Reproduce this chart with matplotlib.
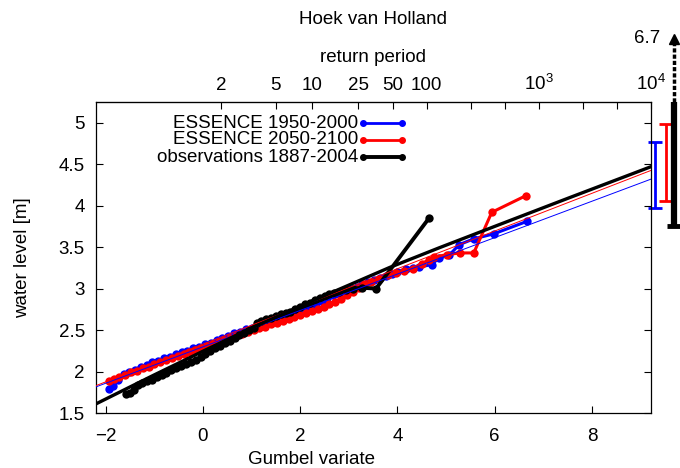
import numpy as np
import matplotlib
matplotlib.use("Agg")
import matplotlib.pyplot as plt
from matplotlib.ticker import FuncFormatter

plt.rcParams['font.family'] = ['Liberation Sans', 'DejaVu Sans']
plt.rcParams['mathtext.default'] = 'regular'
FS = 13.5

# ---------------- data ----------------
blue_x = [-1.93, -1.85, -1.75, -1.63, -1.52, -1.40, -1.28, -1.16, -1.04, -0.92, -0.80,
          -0.68, -0.56, -0.44, -0.32, -0.20, -0.08, 0.04, 0.16, 0.28, 0.40, 0.52,
          0.64, 0.76, 0.88, 1.00, 1.12, 1.24, 1.36, 1.48, 1.60, 1.72, 1.84, 1.96,
          2.08, 2.20, 2.32, 2.44, 2.56, 2.68, 2.80, 2.92, 3.04, 3.16, 3.28, 3.40,
          3.52, 3.64, 3.76, 3.88, 4.00, 4.17, 4.32, 4.45, 4.71, 4.85, 5.06, 5.27,
          5.57, 5.98, 6.66]
blue_y = [1.79, 1.83, 1.90, 1.97, 1.99, 2.02, 2.06, 2.08, 2.11, 2.13, 2.16,
          2.18, 2.21, 2.23, 2.25, 2.28, 2.30, 2.33, 2.35, 2.38, 2.41, 2.43,
          2.46, 2.48, 2.51, 2.53, 2.56, 2.58, 2.61, 2.63, 2.66, 2.69, 2.71, 2.74,
          2.76, 2.79, 2.82, 2.85, 2.89, 2.92, 2.94, 2.97, 2.99, 3.02, 3.05, 3.08,
          3.10, 3.13, 3.15, 3.18, 3.20, 3.24, 3.25, 3.26, 3.29, 3.37, 3.40, 3.53,
          3.60, 3.66, 3.81]

red_x = [-1.93, -1.83, -1.72, -1.60, -1.48, -1.36, -1.24, -1.12, -1.00, -0.88, -0.76,
         -0.64, -0.52, -0.40, -0.28, -0.16, -0.04, 0.08, 0.20, 0.32, 0.44, 0.56,
         0.68, 0.80, 0.92, 1.04, 1.16, 1.28, 1.40, 1.52, 1.64, 1.76, 1.88, 2.00,
         2.12, 2.24, 2.36, 2.48, 2.60, 2.72, 2.84, 2.96, 3.08, 3.20, 3.32, 3.46,
         3.62, 3.80, 3.96, 4.14, 4.31, 4.50, 4.65, 4.75, 5.02, 5.29, 5.57, 5.94, 6.64]
red_y = [1.89, 1.91, 1.93, 1.96, 1.99, 2.01, 2.04, 2.06, 2.09, 2.11, 2.14,
         2.16, 2.19, 2.21, 2.24, 2.26, 2.28, 2.31, 2.33, 2.36, 2.38, 2.41,
         2.43, 2.45, 2.48, 2.50, 2.52, 2.54, 2.57, 2.59, 2.61, 2.63, 2.66, 2.68,
         2.70, 2.73, 2.75, 2.78, 2.81, 2.84, 2.88, 2.92, 2.96, 3.01, 3.05, 3.08,
         3.12, 3.16, 3.19, 3.21, 3.24, 3.30, 3.35, 3.38, 3.41, 3.43, 3.43, 3.92, 4.12]

obs_x = [-1.59, -1.50, -1.42, -1.34, -1.25, -1.15, -1.05, -0.95, -0.85, -0.75, -0.65,
         -0.55, -0.45, -0.35, -0.25, -0.15, -0.05, 0.05, 0.15, 0.25, 0.35, 0.45,
         0.55, 0.65, 0.75, 0.85, 0.95, 1.05, 1.12, 1.20, 1.30, 1.40, 1.50, 1.60,
         1.70, 1.80, 1.90, 2.00, 2.10, 2.20, 2.30, 2.40, 2.50, 2.60, 2.70, 2.80,
         2.95, 3.08, 3.28, 3.56, 4.65]
obs_y = [1.73, 1.74, 1.78, 1.84, 1.86, 1.88, 1.90, 1.93, 1.96, 1.98, 2.02,
         2.04, 2.07, 2.09, 2.12, 2.14, 2.17, 2.21, 2.25, 2.28, 2.31, 2.34,
         2.37, 2.41, 2.44, 2.47, 2.50, 2.52, 2.58, 2.61, 2.63, 2.65, 2.67, 2.69,
         2.71, 2.72, 2.75, 2.78, 2.81, 2.83, 2.86, 2.89, 2.91, 2.93, 2.95, 2.96,
         2.98, 3.00, 3.01, 3.00, 3.85]

fit_x = [-2.2, 9.215]
fit_blue_y = [1.815, 4.32]
fit_red_y = [1.83, 4.425]
fit_obs_x = [-2.2, -1.0, 0.0, 1.0, 2.4, 3.84, 4.85, 6.0, 7.51, 9.215]
fit_obs_y = [1.61, 1.96, 2.245, 2.525, 2.89, 3.255, 3.49, 3.75, 4.09, 4.47]

# uncertainty ranges at 10^4 years (low, high)
blue_range = [3.97, 4.77]
red_range = [4.06, 4.98]
obs_range = [3.76, 6.7]

labels = ['ESSENCE 1950-2000', 'ESSENCE 2050-2100', 'observations 1887-2004']
colors = ['#0000ff', '#ff0000', '#000000']

return_periods = [2, 5, 10, 25, 50, 100, 250, 500, 1000, 2500, 5000, 10000]
rp_labels = ['2', '5', '10', '25', '50', '100', '', '', r'$10^3$', '', '', r'$10^4$']

# ---------------- figure ----------------
XMIN, XMAX = -2.2, 9.215
fig = plt.figure(figsize=(6.8, 4.68), dpi=100)
ax = fig.add_axes([96/680, 1 - 413/468, 555/680, 311/468])
ax.set_xlim(XMIN, XMAX)
ax.set_ylim(1.5, 5.25)

ax.plot(blue_x, blue_y, '-o', color=colors[0], lw=2.2, ms=6, mew=0, zorder=3)
ax.plot(red_x, red_y, '-o', color=colors[1], lw=2.2, ms=6, mew=0, zorder=4)
ax.plot(obs_x, obs_y, '-o', color=colors[2], lw=2.8, ms=6, mew=0, zorder=5)

ax.plot(fit_x, fit_blue_y, '-', color=colors[0], lw=0.7, zorder=6)
ax.plot(fit_x, fit_red_y, '-', color=colors[1], lw=0.7, zorder=6)
ax.plot(fit_obs_x, fit_obs_y, '-', color=colors[2], lw=2.4, zorder=7)

# uncertainty bars right of the axes
def xpix(px):
    return XMIN + (px - 96) * ((XMAX - XMIN) / 555)

for rng, px, c, lw in [(blue_range, 655, colors[0], 2.0), (red_range, 666, colors[1], 2.0)]:
    xx = xpix(px)
    ax.plot([xx, xx], rng, color=c, lw=lw, clip_on=False, solid_capstyle='butt')
    ax.plot([xx, xx], rng, linestyle='none', marker='_', ms=10, mew=2.0,
            color=c, clip_on=False)

xb = xpix(674)
ytop = 5.25
ax.plot([xb, xb], [obs_range[0], ytop], color='k', lw=4.5, clip_on=False,
        solid_capstyle='butt')
ax.plot([xb], [obs_range[0]], linestyle='none', marker='_', ms=10, mew=3.5,
        color='k', clip_on=False)
yarrow = ytop + (102 - 36) / 82.9
ax.plot([xb, xb], [ytop, yarrow - 0.08], color='k', lw=2.5, linestyle=(0, (1.2, 0.6)),
        clip_on=False)
ax.plot([xb], [yarrow - 0.04], marker='^', ms=7, color='k', clip_on=False,
        linestyle='none')
ax.text(xpix(660), ytop + (102 - 39) / 82.9, f'{obs_range[1]:g}', fontsize=FS,
        ha='right', va='center')

# axes styling
ax.set_xticks([-2, 0, 2, 4, 6, 8])
ax.set_yticks(np.arange(1.5, 5.01, 0.5))
ax.yaxis.set_major_formatter(FuncFormatter(lambda v, p: f'{v:g}'))
ax.tick_params(direction='in', length=5, width=0.8, labelsize=FS,
               top=False, right=True)
ax.tick_params(axis='x', pad=10.5)
ax.tick_params(axis='y', pad=8)
ax.set_xlabel('Gumbel variate', fontsize=FS)
ax.xaxis.set_label_coords((311 - 96) / 555, -(451 - 413) / 311)
ax.set_ylabel('water level [m]', fontsize=FS, labelpad=20)
for s in ax.spines.values():
    s.set_linewidth(0.9)

sec = ax.secondary_xaxis('top')
gum = [-np.log(-np.log(1 - 1 / T)) for T in return_periods]
sec.set_xticks(gum)
sec.set_xticklabels(rp_labels)
sec.tick_params(direction='in', length=5, width=0.8, labelsize=FS, pad=6)
sec.set_xlabel('return period', fontsize=FS, labelpad=8)

fig.text(373/680, 1 - 19/468, 'Hoek van Holland', fontsize=FS, ha='center', va='center')

# legend drawn gnuplot-style (text right-aligned, sample on the right)
rows = [0.932, 0.878, 0.823]
lws = [2.0, 2.0, 2.8]
for lab, c, yy, lw in zip(labels, colors, rows, lws):
    ax.text(0.472, yy, lab, transform=ax.transAxes, ha='right', va='center', fontsize=FS)
    ax.plot([0.481, 0.551], [yy, yy], '-', color=c, lw=lw, transform=ax.transAxes)
    ax.plot([0.481, 0.551], [yy, yy], 'o', color=c, ms=4, transform=ax.transAxes)

fig.savefig('out.png', dpi=100)
